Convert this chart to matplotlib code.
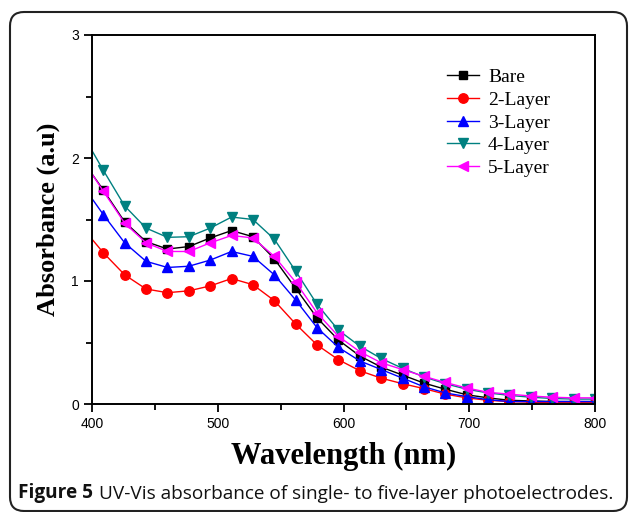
import matplotlib
matplotlib.use("Agg")
import matplotlib.pyplot as plt
from matplotlib.patches import FancyBboxPatch
from matplotlib.transforms import IdentityTransform
from matplotlib.ticker import MultipleLocator

# wavelengths: line starts at 400 nm, markers from 409 nm every 17 nm
wavelength = [400, 409, 426, 443, 460, 477, 494, 511, 528, 545, 562, 579, 596, 613,
              630, 647, 664, 681, 698, 715, 732, 749, 766, 783, 800]

bare = [1.87, 1.74, 1.48, 1.32, 1.26, 1.28, 1.35, 1.41, 1.36, 1.18, 0.94, 0.70, 0.52,
        0.39, 0.30, 0.235, 0.17, 0.12, 0.075, 0.05, 0.03, 0.025, 0.02, 0.02, 0.02]
layer2 = [1.34, 1.23, 1.05, 0.935, 0.905, 0.92, 0.96, 1.02, 0.97, 0.84, 0.65, 0.48, 0.36,
          0.27, 0.21, 0.165, 0.125, 0.08, 0.05, 0.03, 0.02, 0.015, 0.01, 0.01, 0.01]
layer3 = [1.67, 1.54, 1.31, 1.16, 1.11, 1.12, 1.17, 1.24, 1.20, 1.05, 0.845, 0.62, 0.46,
          0.35, 0.28, 0.21, 0.14, 0.09, 0.06, 0.035, 0.02, 0.02, 0.02, 0.02, 0.02]
layer4 = [2.06, 1.90, 1.61, 1.43, 1.355, 1.36, 1.43, 1.52, 1.50, 1.34, 1.08, 0.81, 0.60,
          0.47, 0.37, 0.29, 0.22, 0.165, 0.12, 0.09, 0.07, 0.055, 0.045, 0.04, 0.04]
layer5 = [1.87, 1.73, 1.47, 1.31, 1.24, 1.24, 1.31, 1.37, 1.35, 1.20, 0.99, 0.74, 0.55,
          0.425, 0.335, 0.28, 0.225, 0.175, 0.13, 0.095, 0.08, 0.065, 0.055, 0.05, 0.05]

series = [
    ("Bare", bare, "black", "s", 6.3),
    ("2-Layer", layer2, "#ff0000", "o", 6.8),
    ("3-Layer", layer3, "#0000ff", "^", 7.8),
    ("4-Layer", layer4, "#008080", "v", 7.8),
    ("5-Layer", layer5, "#ff00ff", "<", 7.8),
]

fig = plt.figure(figsize=(6.29, 5.12), dpi=100)
ax = fig.add_axes([92/629, 1-404/512, (595-92)/629, (404-35)/512])

for name, vals, col, mk, ms in series:
    ax.plot(wavelength, vals, color=col, lw=1.0, marker=mk, ms=ms,
            markevery=list(range(1, len(wavelength))), label=name)

ax.set_xlim(400, 800)
ax.set_ylim(0, 3)
ax.xaxis.set_major_locator(MultipleLocator(100))
ax.xaxis.set_minor_locator(MultipleLocator(50))
ax.yaxis.set_major_locator(MultipleLocator(1))
ax.yaxis.set_minor_locator(MultipleLocator(0.5))
ax.tick_params(which="both", direction="out", top=False, right=False, width=1.3)
ax.tick_params(which="major", length=6, labelsize=10)
ax.tick_params(which="minor", length=4)
for lab in ax.get_xticklabels() + ax.get_yticklabels():
    lab.set_fontfamily("Liberation Sans")
for s in ax.spines.values():
    s.set_linewidth(1.4)

ax.set_xlabel("Wavelength (nm)", fontfamily="Liberation Serif", fontweight="bold",
              fontsize=22, labelpad=8)
ax.set_ylabel("Absorbance (a.u)", fontfamily="Liberation Serif", fontweight="bold",
              fontsize=19, labelpad=8)

leg = ax.legend(loc="upper left", bbox_to_anchor=(0.706, 0.909), frameon=False,
                prop={"family": "Liberation Serif", "size": 14},
                handlelength=1.65, labelspacing=0.26, handletextpad=0.45,
                borderpad=0, borderaxespad=0)

# outer rounded frame
frame = FancyBboxPatch((10, 1), 617, 499, boxstyle="round,pad=0,rounding_size=14",
                       transform=IdentityTransform(), fill=False, ec="#222222", lw=1.5)
fig.patches.append(frame)
frame.set_figure(fig)

t1 = fig.text(18/629, 1-498/512, "Figure 5", fontfamily="Open Sans", fontweight="bold",
              fontsize=13.7, ha="left", va="baseline", color="#111111")
ax.annotate("UV-Vis absorbance of single- to five-layer photoelectrodes.",
            xy=(1, 0), xycoords=t1, xytext=(4, 0), textcoords="offset points",
            fontfamily="Open Sans", fontsize=13.7, ha="left", va="bottom",
            color="#111111", annotation_clip=False)

fig.savefig("out.png", dpi=100)
